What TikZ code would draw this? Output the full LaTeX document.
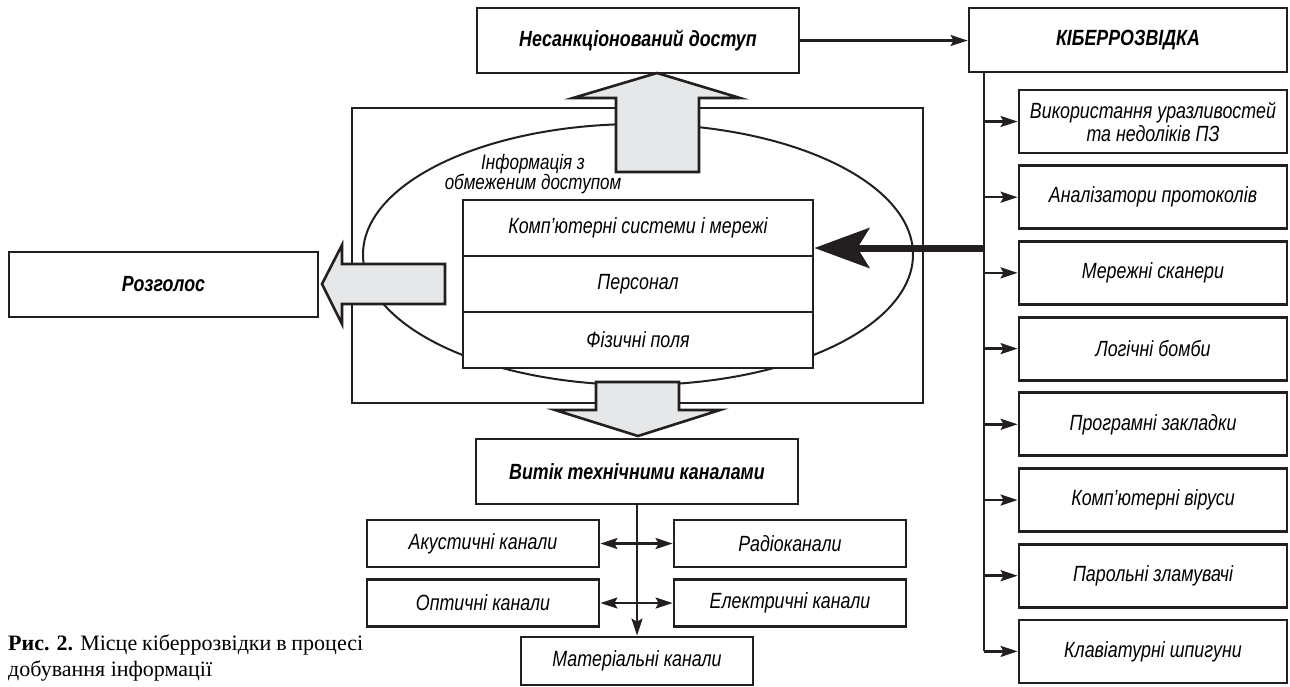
\documentclass[tikz,border=0pt]{standalone}
\usepackage{fontspec}
\setmainfont{Liberation Sans}[FakeStretch=0.81]
\newfontfamily\didascalia{Liberation Serif}
\usetikzlibrary{arrows.meta}

\definecolor{inchiostro}{RGB}{35,31,32}
\definecolor{grigio}{RGB}{230,231,232}

\tikzset{
    blocco/.style={draw=inchiostro, line width=2.8pt, fill=white, inner sep=2pt,
        align=center, font=\fontsize{22}{23}\selectfont\itshape},
    titolo/.style={blocco, font=\fontsize{22}{23}\selectfont\bfseries\itshape},
    canale/.style={blocco, minimum width=232, minimum height=47},
    metodo/.style={blocco, minimum width=268, minimum height=63},
    freccione/.style={draw=inchiostro, fill=grigio, line width=2.6pt, line join=miter},
    linea/.style={draw=inchiostro, line width=2.5pt}
}

\begin{document}
\begin{tikzpicture}[x=1pt, y=-1pt, >={Stealth[length=17pt, width=11pt, inset=3pt]}]
    \useasboundingbox (0,0) rectangle (1290,686);

    % --- Informazione riservata ---
    \draw[draw=inchiostro, line width=2pt] (352,108) rectangle (923,403);
    \draw[draw=inchiostro, line width=2pt] (638,254.5) ellipse [x radius=275pt, y radius=130.5pt];
    \node[font=\fontsize{21}{20}\selectfont\itshape, align=center] (info) at (533,174) {Інформація з\\обмеженим доступом};

    \node[blocco, minimum width=350, minimum height=56] (p1) at (638,228) {Комп’ютерні системи і мережі};
    \node[blocco, minimum width=350, minimum height=56] (p2) at (638,284) {Персонал};
    \node[blocco, minimum width=350, minimum height=56] (p3) at (638,340) {Фізичні поля};

    % --- Vie di fuga ---
    \node[titolo, minimum width=322, minimum height=65] (nsd) at (638,40.5) {Несанкціонований доступ};
    \node[titolo, minimum width=309, minimum height=65] (rozg) at (163.5,284.5) {Розголос};
    \node[titolo, minimum width=322, minimum height=65] (vytik) at (637,471.5) {Витік технічними каналами};

    \draw[freccione] (616,172) -- (616,98) -- (573,98) -- (657,73) -- (740,98) -- (699,98) -- (699,172) -- cycle;
    \draw[freccione] (445,264) -- (342,264) -- (342,245) -- (322,284) -- (342,324) -- (342,304) -- (445,304) -- cycle;
    \draw[freccione] (596,382) -- (596,410) -- (555,410) -- (638,436) -- (720,410) -- (679,410) -- (679,382) -- cycle;

    % --- Canali tecnici ---
    \node[canale] (ak) at (483,543.5) {Акустичні канали};
    \node[canale] (rad) at (790,543.5) {Радіоканали};
    \node[canale] (opt) at (483,603) {Оптичні канали};
    \node[canale] (el) at (790,603) {Електричні канали};
    \node[canale, minimum height=48] (mat) at (637,661) {Матеріальні канали};

    \draw[linea, ->] (vytik.south) -- (mat.north);
    \draw[linea, <->] (ak.east) -- (rad.west);
    \draw[linea, <->] (opt.east) -- (el.west);

    % --- Ciberspionaggio ---
    \node[titolo, minimum width=318, minimum height=64] (kib) at (1128,40) {КІБЕРРОЗВІДКА};
    \draw[linea, ->] (nsd.east) -- (nsd.east -| kib.west);

    \foreach \testo [count=\i] in {{Використання уразливостей\\та недоліків ПЗ}, Аналізатори протоколів,
            Мережні сканери, Логічні бомби, Програмні закладки, Комп’ютерні віруси,
            Парольні зламувачі, Клавіатурні шпигуни}
        \node[metodo] (r\i) at (1153,{121.5+75.7*(\i-1)}) {\testo};

    \coordinate (dorso) at (984,651.4);
    \draw[linea] (kib.south -| dorso) -- (dorso);
    \foreach \i in {1,...,8} \draw[linea, ->] (r\i.west -| dorso) -- (r\i.west);

    % Freccia spessa verso i sistemi
    \coordinate (presa) at (984,248);
    \draw[draw=inchiostro, line width=7pt, -{Stealth[length=55pt, width=40pt, inset=12pt]}] (presa) -- (presa -| p1.east);

    % --- Didascalia ---
    \node[anchor=north west, inner sep=0pt, align=left,
        font=\didascalia\fontsize{22}{26}\selectfont] (dida) at (8,635)
        {\makebox[355pt][s]{\textbf{Рис. 2.} Місце кіберрозвідки в процесі}\\добування інформації};
\end{tikzpicture}
\end{document}
